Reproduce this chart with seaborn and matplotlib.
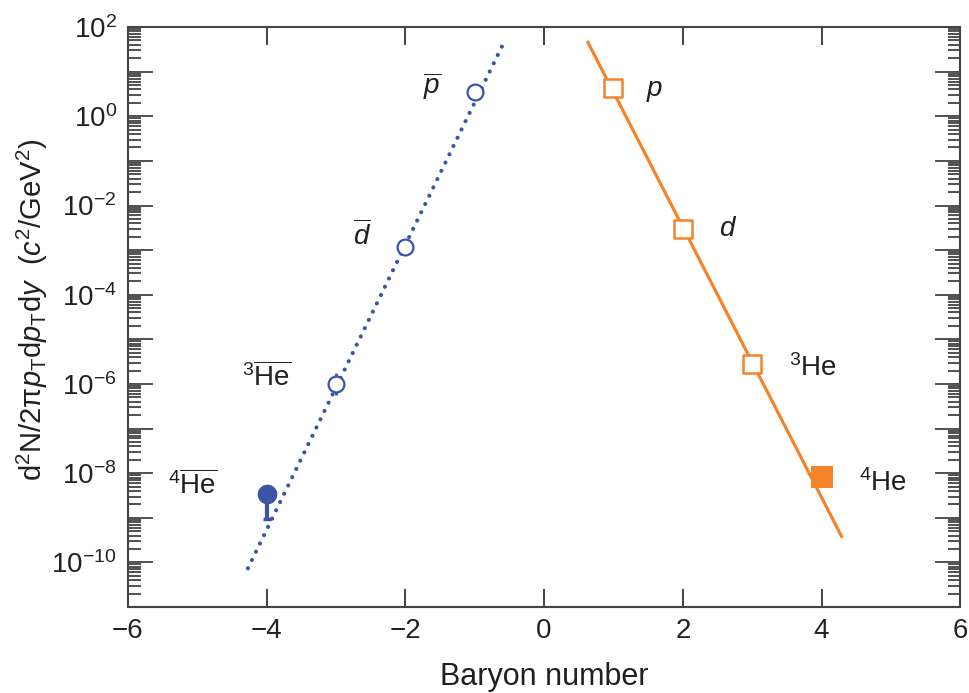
import numpy as np
import pandas as pd
import matplotlib
matplotlib.use("Agg")
import matplotlib.pyplot as plt
import matplotlib.ticker as mticker
import seaborn as sns

# 反物质（左侧，负重子数）
anti_labels = [r'$\overline{p}$', r'$\overline{d}$',
               r'$^{3}\overline{\mathrm{He}}$', r'$^{4}\overline{\mathrm{He}}$']
anti_baryon = [-1, -2, -3, -4]
anti_yield = [3.5, 1.2e-3, 1.0e-6, 3.4e-9]
anti_err_lo = [0, 0, 0.44e-6, 2.47e-9]
anti_err_hi = [0, 0, 0.78e-6, 1.5e-9]

# 物质（右侧，正重子数）
matter_labels = [r'$p$', r'$d$', r'$^{3}$He', r'$^{4}$He']
matter_baryon = [1, 2, 3, 4]
matter_yield = [4.3, 2.9e-3, 2.8e-6, 8.1e-9]

# 指数拟合线的两端
anti_fit_b = [-4.27, -0.58]
anti_fit_y = [7.4e-11, 45.0]
matter_fit_b = [0.63, 4.29]
matter_fit_y = [46.0, 3.8e-10]

# 标签位置
anti_lab_x = [-1.62, -2.63, -4.0, -5.06]
anti_lab_y = [4.6, 2.1e-3, 1.4e-6, 5.4e-9]
matter_lab_x = [1.59, 2.65, 3.87, 4.88]
matter_lab_y = [3.6, 3.0e-3, 2.3e-6, 6.0e-9]

blue = '#3a55a6'
orange = '#f5832a'
txt = '#231f20'

sns.set_style('white')
plt.rcParams['font.family'] = ['Liberation Sans', 'DejaVu Sans']
plt.rcParams['mathtext.fontset'] = 'custom'
plt.rcParams['mathtext.rm'] = 'Liberation Sans'
plt.rcParams['mathtext.it'] = 'Liberation Sans:italic'
plt.rcParams['mathtext.bf'] = 'Liberation Sans:bold'

anti = pd.DataFrame({'b': anti_baryon, 'y': anti_yield})
matter = pd.DataFrame({'b': matter_baryon, 'y': matter_yield})

fig = plt.figure(figsize=(9.69, 6.93), dpi=100)
ax = fig.add_axes([0.132, 0.124, 0.859, 0.837])

# 拟合线
sns.lineplot(x=anti_fit_b, y=anti_fit_y, ax=ax, color=blue, lw=3.0,
             linestyle=(0, (0.01, 2.2)), dash_capstyle='round', zorder=2)
sns.lineplot(x=matter_fit_b, y=matter_fit_y, ax=ax, color=orange, lw=2.3,
             zorder=2)

# 误差棒
ax.errorbar(anti_baryon[2:3], anti_yield[2:3], yerr=[anti_err_lo[2:3], anti_err_hi[2:3]],
            fmt='none', ecolor=blue, elinewidth=2, capsize=0, zorder=3)
ax.errorbar(anti_baryon[3:], anti_yield[3:], yerr=[anti_err_lo[3:], anti_err_hi[3:]],
            fmt='none', ecolor=blue, elinewidth=3, capsize=3, capthick=2.5, zorder=3)

# 数据点
sns.scatterplot(data=anti.iloc[:3], x='b', y='y', ax=ax, marker='o', s=130,
                color='white', edgecolor=blue, linewidth=1.6, zorder=4)
sns.scatterplot(data=anti.iloc[3:], x='b', y='y', ax=ax, marker='o', s=200,
                color=blue, edgecolor=blue, linewidth=0, zorder=4)
sns.scatterplot(data=matter.iloc[:3], x='b', y='y', ax=ax, marker='s', s=150,
                color='white', edgecolor=orange, linewidth=1.8, zorder=4)
sns.scatterplot(data=matter.iloc[3:], x='b', y='y', ax=ax, marker='s', s=250,
                color=orange, edgecolor=orange, linewidth=0, zorder=4)

for lab, x, y in zip(anti_labels + matter_labels, anti_lab_x + matter_lab_x,
                     anti_lab_y + matter_lab_y):
    ax.text(x, y, lab, fontsize=20, color=txt, ha='center', va='center')

ax.set_yscale('log')
ax.set_xlim(-6, 6)
ax.set_ylim(1e-11, 1e2)
ax.set_xticks([-6, -4, -2, 0, 2, 4, 6])
ax.set_xticklabels(['\u22126', '\u22124', '\u22122', '0', '2', '4', '6'])

def ylab(v, pos):
    e = int(round(np.log10(v)))
    if e % 2 == 0:
        return r'$10^{%d}$' % e
    return ''

ax.yaxis.set_major_locator(mticker.LogLocator(base=10, numticks=30))
ax.yaxis.set_major_formatter(mticker.FuncFormatter(ylab))
ax.yaxis.set_minor_locator(mticker.LogLocator(base=10, subs=np.arange(2, 10), numticks=30))
ax.yaxis.set_minor_formatter(mticker.NullFormatter())

ax.tick_params(axis='y', which='major', direction='in', length=18, width=1.1,
               left=True, right=True, labelsize=20, pad=8, colors='#222222')
ax.tick_params(axis='y', which='minor', direction='in', length=9, width=1.1,
               left=True, right=True, colors='#222222')
ax.tick_params(axis='x', direction='in', length=13, width=1.2, top=True, bottom=True,
               labelsize=20, pad=8, colors='#222222')
for sp in ax.spines.values():
    sp.set_color('#444444')
    sp.set_linewidth(1.5)

ax.set_xlabel('Baryon number', fontsize=22, color=txt, labelpad=13)
ax.set_ylabel(r'd$^2$N/2π$p_\mathrm{T}$d$p_\mathrm{T}$d$y$  ($c^2$/GeV$^2$)',
              fontsize=21, color=txt)
ax.yaxis.set_label_coords(-0.094, 0.512)

fig.savefig('out.png', dpi=100)
